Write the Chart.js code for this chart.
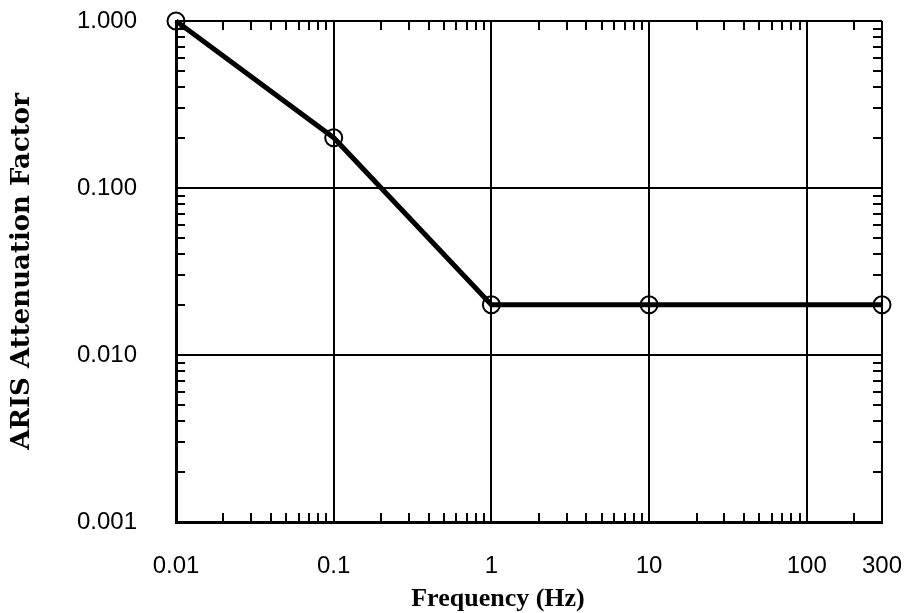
<!DOCTYPE html>
<html>
<head>
<meta charset="utf-8">
<script src="https://cdn.jsdelivr.net/npm/chart.js@4"></script>
<style>
  body { margin: 0; background: #fff; }
  canvas { display: block; }
</style>
</head>
<body>
<canvas id="arisChart" width="915" height="613"></canvas>
<script>
const frequencies = [0.01, 0.1, 1, 10, 300];
const attenuation = [1.0, 0.2, 0.02, 0.02, 0.02];

const xTickValues = [0.01, 0.1, 1, 10, 100, 300];
const xTickLabels = ['0.01', '0.1', '1', '10', '100', '300'];
const yTickValues = [0.001, 0.01, 0.1, 1];
const yTickLabels = ['0.001', '0.010', '0.100', '1.000'];

const xTitle = 'Frequency (Hz)';
const yTitle = 'ARIS Attenuation Factor';

// short inward ticks at 2..9 of each decade, on all four sides
function minorValues(min, max) {
    const out = [];
    for (let e = Math.floor(Math.log10(min)); e <= Math.ceil(Math.log10(max)); e++) {
        for (let k = 2; k <= 9; k++) {
            const v = k * Math.pow(10, e);
            if (v > min && v < max) out.push(v);
        }
    }
    return out;
}

const minorTicks = {
    id: 'minorTicks',
    afterDraw(chart) {
        const { ctx, chartArea } = chart;
        const x = chart.scales.x, y = chart.scales.y;
        const len = 9;
        ctx.save();
        ctx.strokeStyle = '#000';
        ctx.lineWidth = 2;
        ctx.beginPath();
        minorValues(x.min, x.max).forEach(v => {
            const px = Math.round(x.getPixelForValue(v));
            ctx.moveTo(px, chartArea.bottom);
            ctx.lineTo(px, chartArea.bottom - len);
            ctx.moveTo(px, chartArea.top);
            ctx.lineTo(px, chartArea.top + len);
        });
        minorValues(y.min, y.max).forEach(v => {
            const py = Math.round(y.getPixelForValue(v));
            ctx.moveTo(chartArea.left, py);
            ctx.lineTo(chartArea.left + len, py);
            ctx.moveTo(chartArea.right, py);
            ctx.lineTo(chartArea.right - len, py);
        });
        ctx.stroke();

        // x axis title, sits a little left of the plot centre in the original
        ctx.fillStyle = '#000';
        ctx.font = 'bold 26px "Liberation Serif", "Times New Roman", serif';
        ctx.textAlign = 'center';
        ctx.textBaseline = 'middle';
        ctx.fillText(xTitle, (chartArea.left + chartArea.right) / 2 - 31, 599);
        ctx.restore();
    }
};

const ctx = document.getElementById('arisChart').getContext('2d');
const arisChart = new Chart(ctx, {
    type: 'line',
    data: {
        datasets: [{
            label: 'ARIS',
            data: frequencies.map((f, i) => ({ x: f, y: attenuation[i] })),
            borderColor: '#000',
            borderWidth: 5,
            pointRadius: 8.5,
            pointHoverRadius: 8.5,
            pointBorderWidth: 2,
            pointBorderColor: '#000',
            pointBackgroundColor: 'rgba(0,0,0,0)',
            tension: 0,
            clip: false
        }]
    },
    options: {
        responsive: false,
        animation: false,
        layout: {
            padding: { top: 21, right: 33, left: 0, bottom: 0 }
        },
        plugins: {
            legend: { display: false },
            tooltip: { enabled: false }
        },
        scales: {
            x: {
                type: 'logarithmic',
                min: 0.01,
                max: 300,
                afterBuildTicks: scale => {
                    scale.ticks = xTickValues.map(v => ({ value: v }));
                },
                afterFit: scale => {
                    scale.height = 91;
                    scale.paddingLeft = 0;
                    scale.paddingRight = 0;
                },
                ticks: {
                    color: '#000',
                    font: { family: '"Liberation Sans", Arial, sans-serif', size: 24 },
                    padding: 30,
                    maxRotation: 0,
                    autoSkip: false,
                    callback: (value, index) => xTickLabels[index]
                },
                grid: { color: '#000', lineWidth: 2, drawTicks: false },
                border: { display: true, color: '#000', width: 3 }
            },
            y: {
                type: 'logarithmic',
                min: 0.001,
                max: 1,
                afterBuildTicks: scale => {
                    scale.ticks = yTickValues.map(v => ({ value: v }));
                },
                afterFit: scale => {
                    scale.width = 176;
                    scale.paddingTop = 0;
                    scale.paddingBottom = 0;
                },
                ticks: {
                    color: '#000',
                    font: { family: '"Liberation Sans", Arial, sans-serif', size: 24 },
                    padding: 39,
                    autoSkip: false,
                    callback: (value, index) => yTickLabels[index]
                },
                grid: { color: '#000', lineWidth: 2, drawTicks: false },
                border: { display: true, color: '#000', width: 3 },
                title: {
                    display: true,
                    text: yTitle,
                    color: '#000',
                    font: { family: '"DejaVu Serif", serif', size: 26, weight: 'bold', lineHeight: 1 },
                    padding: { top: 9, bottom: 0 }
                }
            }
        }
    },
    plugins: [minorTicks]
});
</script>
</body>
</html>
